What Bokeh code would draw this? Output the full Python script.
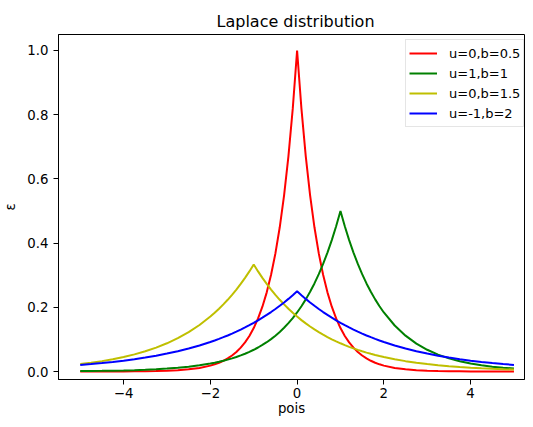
from bokeh.plotting import figure
from bokeh.models import Range1d, FixedTicker, Legend, LegendItem
from bokeh.embed import file_html
from bokeh.resources import INLINE

# sampled x positions
x_vals = [-5.0, -4.75, -4.5, -4.25, -4.0, -3.75, -3.5, -3.25, -3.0, -2.75, -2.5, -2.25,
          -2.0, -1.9, -1.8, -1.7, -1.6, -1.5, -1.4, -1.3, -1.2, -1.1,
          -1.0, -0.9, -0.8, -0.7, -0.6, -0.5, -0.4, -0.3, -0.2, -0.1,
          0.0, 0.1, 0.2, 0.3, 0.4, 0.5, 0.6, 0.7, 0.8, 0.9,
          1.0, 1.1, 1.2, 1.3, 1.4, 1.5, 1.6, 1.7, 1.8, 1.9, 2.0,
          2.25, 2.5, 2.75, 3.0, 3.25, 3.5, 3.75, 4.0, 4.25, 4.5, 4.75, 5.0]

red_vals = [0.0000, 0.0001, 0.0001, 0.0002, 0.0003, 0.0006, 0.0009, 0.0015, 0.0025, 0.0041, 0.0067, 0.0111,
            0.0183, 0.0224, 0.0273, 0.0334, 0.0408, 0.0498, 0.0608, 0.0743, 0.0907, 0.1108,
            0.1353, 0.1653, 0.2019, 0.2466, 0.3012, 0.3679, 0.4493, 0.5488, 0.6703, 0.8187,
            1.0000, 0.8187, 0.6703, 0.5488, 0.4493, 0.3679, 0.3012, 0.2466, 0.2019, 0.1653,
            0.1353, 0.1108, 0.0907, 0.0743, 0.0608, 0.0498, 0.0408, 0.0334, 0.0273, 0.0224, 0.0183,
            0.0111, 0.0067, 0.0041, 0.0025, 0.0015, 0.0009, 0.0006, 0.0003, 0.0002, 0.0001, 0.0001, 0.0000]

green_vals = [0.0012, 0.0016, 0.0020, 0.0026, 0.0034, 0.0043, 0.0056, 0.0071, 0.0092, 0.0118, 0.0151, 0.0194,
              0.0249, 0.0275, 0.0304, 0.0336, 0.0371, 0.0410, 0.0454, 0.0501, 0.0554, 0.0612,
              0.0677, 0.0748, 0.0827, 0.0913, 0.1009, 0.1116, 0.1233, 0.1363, 0.1506, 0.1664,
              0.1839, 0.2033, 0.2247, 0.2483, 0.2744, 0.3033, 0.3352, 0.3704, 0.4094, 0.4524,
              0.5000, 0.4524, 0.4094, 0.3704, 0.3352, 0.3033, 0.2744, 0.2483, 0.2247, 0.2033, 0.1839,
              0.1433, 0.1116, 0.0869, 0.0677, 0.0527, 0.0410, 0.0320, 0.0249, 0.0194, 0.0151, 0.0118, 0.0092]

yellow_vals = [0.0232, 0.0274, 0.0323, 0.0382, 0.0451, 0.0533, 0.0630, 0.0744, 0.0879, 0.1038, 0.1226, 0.1449,
               0.1711, 0.1829, 0.1955, 0.2090, 0.2234, 0.2388, 0.2553, 0.2729, 0.2917, 0.3118,
               0.3333, 0.3118, 0.2917, 0.2729, 0.2553, 0.2388, 0.2234, 0.2090, 0.1955, 0.1829,
               0.1711, 0.1601, 0.1498, 0.1401, 0.1311, 0.1226, 0.1147, 0.1073, 0.1004, 0.0939,
               0.0879, 0.0822, 0.0769, 0.0719, 0.0673, 0.0630, 0.0589, 0.0551, 0.0515, 0.0482, 0.0451,
               0.0382, 0.0323, 0.0274, 0.0232, 0.0196, 0.0166, 0.0140, 0.0119, 0.0101, 0.0085, 0.0072, 0.0061]

blue_vals = [0.0205, 0.0233, 0.0264, 0.0299, 0.0338, 0.0383, 0.0434, 0.0492, 0.0558, 0.0632, 0.0716, 0.0812,
             0.0920, 0.0967, 0.1016, 0.1069, 0.1123, 0.1181, 0.1241, 0.1305, 0.1372, 0.1442,
             0.1516, 0.1594, 0.1676, 0.1762, 0.1852, 0.1947, 0.2047, 0.2152, 0.2262, 0.2378,
             0.2500, 0.2378, 0.2262, 0.2152, 0.2047, 0.1947, 0.1852, 0.1762, 0.1676, 0.1594,
             0.1516, 0.1442, 0.1372, 0.1305, 0.1241, 0.1181, 0.1123, 0.1069, 0.1016, 0.0967, 0.0920,
             0.0812, 0.0716, 0.0632, 0.0558, 0.0492, 0.0434, 0.0383, 0.0338, 0.0299, 0.0264, 0.0233, 0.0205]

series_labels = ["u=0,b=0.5", "u=1,b=1", "u=0,b=1.5", "u=-1,b=2"]
series_colors = ["#ff0000", "#008000", "#bfbf00", "#0000ff"]

x_ticks = [-4, -2, 0, 2, 4]
x_tick_labels = ["\u22124", "\u22122", "0", "2", "4"]
y_ticks = [0.0, 0.2, 0.4, 0.6, 0.8, 1.0]
y_tick_labels = ["0.0", "0.2", "0.4", "0.6", "0.8", "1.0"]

FONT = "DejaVu Sans"
TICK_PX = "13.3px"

p = figure(width=525, height=419, output_backend="svg", toolbar_location=None,
           x_range=Range1d(-5.501, 5.243), y_range=Range1d(-0.0249, 1.0498),
           min_border_left=58, min_border_right=1, min_border_top=34, min_border_bottom=40,
           background_fill_color="white", border_fill_color="white")

p.title.text = "Laplace distribution"
p.title.align = "left"
p.title.offset = 158
p.title.text_font = FONT
p.title.text_font_size = "16px"
p.title.text_font_style = "normal"
p.title.text_color = "#000000"
p.title.standoff = 7

p.xgrid.visible = False
p.ygrid.visible = False
p.outline_line_color = "#000000"
p.outline_line_width = 1
p.outline_line_alpha = 1

for ax in (p.xaxis[0], p.yaxis[0]):
    ax.axis_line_color = "#000000"
    ax.axis_line_width = 1
    ax.major_tick_line_color = "#000000"
    ax.major_tick_line_width = 1
    ax.major_tick_in = 0
    ax.major_tick_out = 5
    ax.minor_tick_line_color = None
    ax.major_label_text_font = FONT
    ax.major_label_text_font_size = TICK_PX
    ax.major_label_text_color = "#000000"
    ax.axis_label_text_font = FONT
    ax.axis_label_text_font_size = TICK_PX
    ax.axis_label_text_font_style = "normal"
    ax.axis_label_text_color = "#000000"

p.xaxis.ticker = FixedTicker(ticks=x_ticks)
p.xaxis.major_label_overrides = dict(zip(x_ticks, x_tick_labels))
p.yaxis.ticker = FixedTicker(ticks=y_ticks)
p.yaxis.major_label_overrides = dict(zip(y_ticks, y_tick_labels))
p.xaxis.axis_label = "pois"
p.yaxis.axis_label = "\u03b5"
p.xaxis.major_label_standoff = 3
p.xaxis.axis_label_standoff = 0
p.yaxis.major_label_standoff = 5
p.yaxis.axis_label_standoff = 6

items = []
for ys, lab, col in zip([red_vals, green_vals, yellow_vals, blue_vals], series_labels, series_colors):
    r = p.line(x_vals, ys, line_color=col, line_width=2)
    items.append(LegendItem(label=lab, renderers=[r]))

legend = Legend(items=items, location=(347, 252))
legend.padding = 3
legend.spacing = 0
legend.glyph_width = 28
legend.glyph_height = 20
legend.label_height = 20
legend.label_standoff = 12
legend.label_text_font = FONT
legend.label_text_font_size = "13px"
legend.label_text_color = "#000000"
legend.border_line_color = "#cccccc"
legend.border_line_width = 1
legend.background_fill_alpha = 0.8
p.add_layout(legend)

open("out.html", "w").write(file_html(p, INLINE))
